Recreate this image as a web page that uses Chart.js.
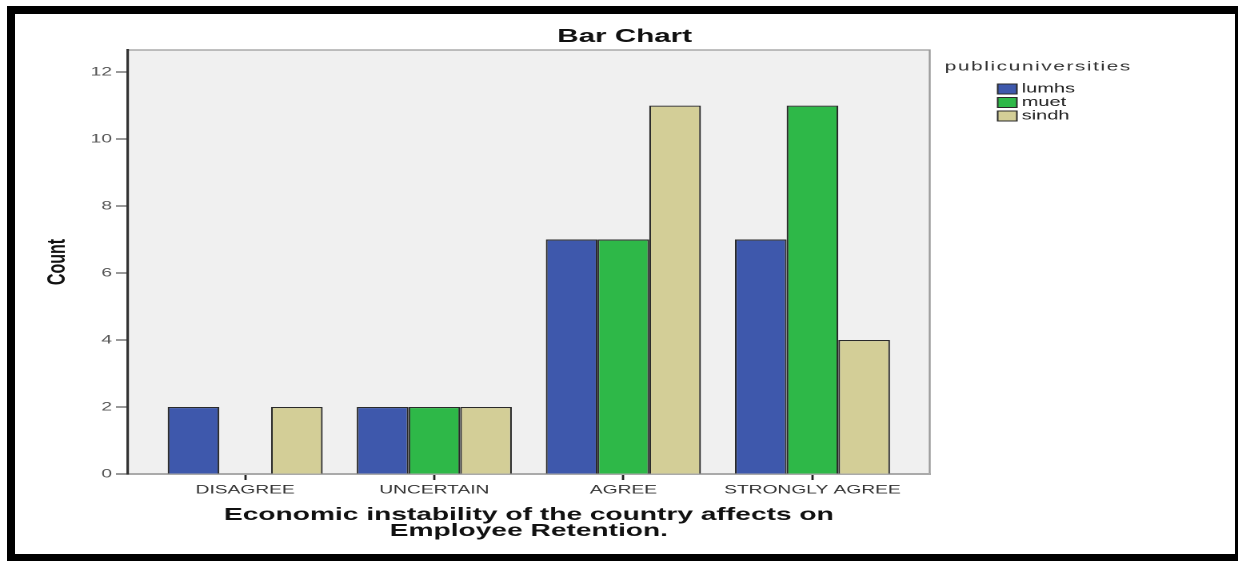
<!DOCTYPE html>
<html>
<head>
<meta charset="utf-8">
<script src="https://cdn.jsdelivr.net/npm/chart.js@4.4.1/dist/chart.umd.min.js"></script>
<style>
    html, body { margin: 0; padding: 0; background: #fff; overflow: hidden; }
    /* the reference image is stretched sideways, so the chart is drawn narrow and scaled up */
    #stretch { position: absolute; left: 0; top: 0; width: 774px; height: 561px; transform: scaleX(1.5995); transform-origin: 0 0; }
    #frame { position: absolute; left: 7px; top: 6px; width: 1231px; height: 555px; box-sizing: border-box; border: solid #000; border-width: 8px 3px 7px 8px; pointer-events: none; }
</style>
</head>
<body>
<div id="stretch"><canvas id="chart-bars"></canvas></div>
<div id="frame"></div>
<script>
const chartTitle = 'Bar Chart';
const legendTitle = 'publicuniversities';
const categories = ['DISAGREE', 'UNCERTAIN', 'AGREE', 'STRONGLY AGREE'];
const lumhs = [2, 2, 7, 7];
const muet = [0, 2, 7, 11];
const sindh = [2, 2, 11, 4];
const yTicks = [0, 2, 4, 6, 8, 10, 12];
const xTitle = ['Economic instability of the country affects on', 'Employee Retention.'];

const FONT = '"Liberation Sans", Arial, sans-serif';
Chart.defaults.font.family = FONT;

const toPoints = values => values.map((v, i) => ({ x: i, y: v }));

// grey plot background with the thin frame on top and right
const plotFrame = {
    id: 'plotFrame',
    beforeDraw(chart) {
        const { ctx, chartArea: a } = chart;
        ctx.save();
        ctx.fillStyle = '#f0f0f0';
        ctx.fillRect(a.left, a.top, a.right - a.left, a.bottom - a.top);
        ctx.strokeStyle = '#9a9a9a';
        ctx.lineWidth = 1.2;
        ctx.beginPath();
        ctx.moveTo(a.left, a.top);
        ctx.lineTo(a.right, a.top);
        ctx.lineTo(a.right, a.bottom);
        ctx.stroke();
        ctx.restore();
    }
};

// title + SPSS style legend (sits right of the plot, title centred on the page)
const spssText = {
    id: 'spssText',
    afterDraw(chart) {
        const { ctx, chartArea: a } = chart;
        ctx.save();
        ctx.textBaseline = 'middle';
        ctx.fillStyle = '#111';
        ctx.textAlign = 'center';
        ctx.font = `bold 18.5px ${FONT}`;
        ctx.fillText(chartTitle, chart.width / 2 + 3.5, 36.8);

        ctx.textAlign = 'left';
        ctx.fillStyle = '#333';
        ctx.font = `13px ${FONT}`;
        ctx.letterSpacing = '1px';
        ctx.fillText(legendTitle, a.right + 9.4, a.top + 17);
        ctx.letterSpacing = '0px';

        ctx.font = `12.5px ${FONT}`;
        chart.data.datasets.forEach((ds, i) => {
            const y = a.top + 39 + i * 13.5;
            ctx.fillStyle = ds.backgroundColor;
            ctx.fillRect(a.right + 42.5, y - 5, 12, 10);
            ctx.strokeStyle = '#2a2a2a';
            ctx.lineWidth = 1;
            ctx.strokeRect(a.right + 42.5, y - 5, 12, 10);
            ctx.fillStyle = '#222';
            ctx.fillText(ds.label, a.right + 57.5, y);
        });
        ctx.restore();
    }
};

new Chart(document.getElementById('chart-bars'), {
    type: 'bar',
    data: {
        datasets: [
            { label: 'lumhs', data: toPoints(lumhs), backgroundColor: '#3e58ac' },
            { label: 'muet', data: toPoints(muet), backgroundColor: '#2eb848' },
            { label: 'sindh', data: toPoints(sindh), backgroundColor: '#d3ce97' }
        ]
    },
    options: {
        responsive: true,
        maintainAspectRatio: false,
        animation: false,
        devicePixelRatio: 2,
        layout: { padding: { top: 50, right: 192.75, bottom: 22, left: 0 } },
        datasets: {
            bar: { borderColor: '#2a2a2a', borderWidth: 1.1, categoryPercentage: 0.82, barPercentage: 1 }
        },
        scales: {
            x: {
                type: 'linear',
                min: -0.62,
                max: 3.62,
                offset: false,
                afterBuildTicks: scale => { scale.ticks = categories.map((c, i) => ({ value: i })); },
                afterFit: scale => { scale.height = 65; },
                grid: { offset: false, drawOnChartArea: false, tickLength: 6, tickColor: '#222', tickWidth: 1.4 },
                border: { color: '#aaa', width: 2 },
                ticks: {
                    padding: 3,
                    color: '#333',
                    font: { size: 12 },
                    maxRotation: 0,
                    autoSkip: false,
                    callback: value => categories[value]
                },
                title: {
                    display: true,
                    text: xTitle,
                    color: '#111',
                    font: { size: 17.6, weight: 'bold', lineHeight: 0.91 },
                    padding: { top: 0, bottom: 0 }
                }
            },
            y: {
                min: 0,
                max: 12.66,
                afterBuildTicks: scale => { scale.ticks = yTicks.map(value => ({ value })); },
                afterFit: scale => { scale.width = 80; },
                grid: { drawOnChartArea: false, tickLength: 7.5, tickColor: '#555', tickWidth: 1.2 },
                border: { color: '#333', width: 1.6 },
                ticks: { padding: 2.5, color: '#555', font: { size: 12 } },
                title: {
                    display: true,
                    text: 'Count',
                    color: '#111',
                    font: { size: 16, weight: 'bold' },
                    padding: { top: 26.6, bottom: 0 }
                }
            }
        },
        plugins: {
            legend: { display: false },
            title: { display: false },
            tooltip: { enabled: false }
        }
    },
    plugins: [plotFrame, spssText]
});
</script>
</body>
</html>
